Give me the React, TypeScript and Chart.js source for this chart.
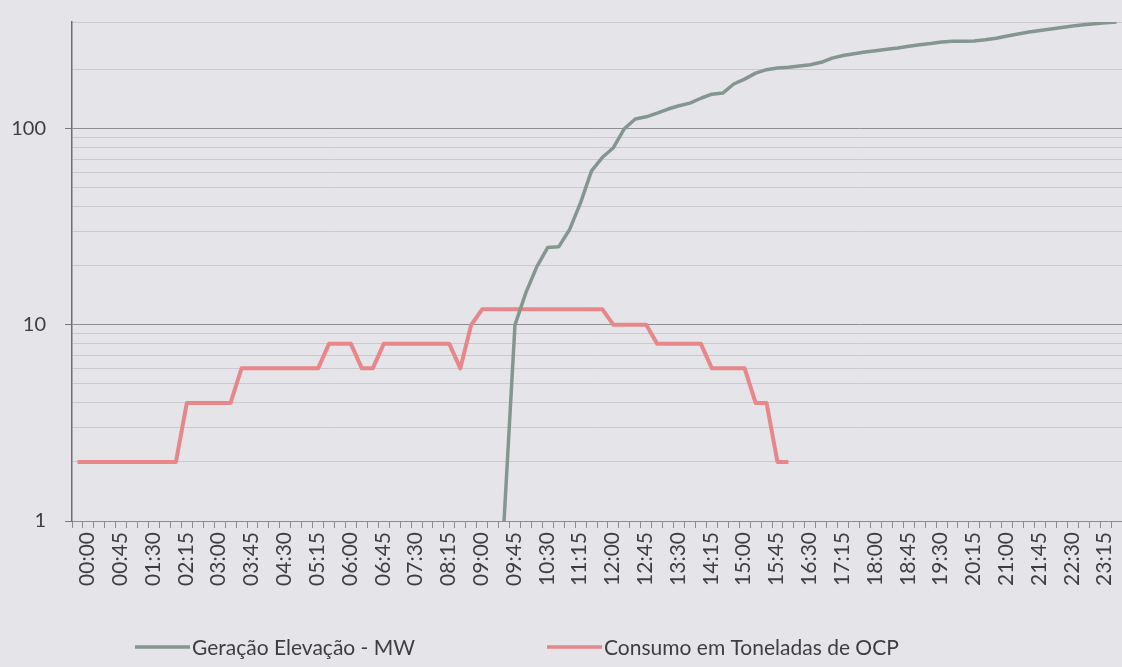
import { useEffect, useRef } from "react";
import { Chart, registerables } from "chart.js";

Chart.register(...registerables);

const TIME_LABELS: string[] = [
  "00:00", "00:15", "00:30", "00:45", "01:00", "01:15", "01:30", "01:45",
  "02:00", "02:15", "02:30", "02:45", "03:00", "03:15", "03:30", "03:45",
  "04:00", "04:15", "04:30", "04:45", "05:00", "05:15", "05:30", "05:45",
  "06:00", "06:15", "06:30", "06:45", "07:00", "07:15", "07:30", "07:45",
  "08:00", "08:15", "08:30", "08:45", "09:00", "09:15", "09:30", "09:45",
  "10:00", "10:15", "10:30", "10:45", "11:00", "11:15", "11:30", "11:45",
  "12:00", "12:15", "12:30", "12:45", "13:00", "13:15", "13:30", "13:45",
  "14:00", "14:15", "14:30", "14:45", "15:00", "15:15", "15:30", "15:45",
  "16:00", "16:15", "16:30", "16:45", "17:00", "17:15", "17:30", "17:45",
  "18:00", "18:15", "18:30", "18:45", "19:00", "19:15", "19:30", "19:45",
  "20:00", "20:15", "20:30", "20:45", "21:00", "21:15", "21:30", "21:45",
  "22:00", "22:15", "22:30", "22:45", "23:00", "23:15", "23:30", "23:45",
];

// Geração Elevação - MW (15-minute readings)
const GERACAO: (number | null)[] = [
  null, null, null, null, null, null, null, null, null, null,
  null, null, null, null, null, null, null, null, null, null,
  null, null, null, null, null, null, null, null, null, null,
  null, null, null, null, null, null, null, null, null,
  1, 10, 14.6, 19.8, 24.8, 25, 30.7, 42, 61, 71.5,
  80, 100, 112, 115, 120, 126, 131, 135, 143, 150,
  152, 169, 179, 192, 200, 204, 206, 209, 212, 218,
  229, 236, 241, 246, 250, 254, 258, 263, 268, 272,
  277, 279, 279, 280, 284, 289, 297, 304, 311, 317,
  322, 328, 334, 339, 343, 347, 350,
];

// Consumo em Toneladas de OCP
const CONSUMO: (number | null)[] = [
  2, 2, 2, 2, 2, 2, 2, 2, 2, 2,
  4, 4, 4, 4, 4,
  6, 6, 6, 6, 6, 6, 6, 6,
  8, 8, 8,
  6, 6,
  8, 8, 8, 8, 8, 8, 8,
  6,
  10,
  12, 12, 12, 12, 12, 12, 12, 12, 12, 12, 12, 12,
  10, 10, 10, 10,
  8, 8, 8, 8, 8,
  6, 6, 6, 6,
  4, 4,
  2, 2,
  null, null, null, null, null, null, null, null, null, null,
  null, null, null, null, null, null, null, null, null, null,
  null, null, null, null, null, null, null, null, null, null,
];

const SERIES_NAMES: string[] = ["Geração Elevação - MW", "Consumo em Toneladas de OCP"];
const SERIES_COLORS: string[] = ["#83978f", "#e7878a"];

const Y_MIN = 1;
const Y_MAX = 350;
const Y_MAJOR: number[] = [1, 10, 100];
const Y_GRID: number[] = [
  1, 2, 3, 4, 5, 6, 7, 8, 9,
  10, 20, 30, 40, 50, 60, 70, 80, 90,
  100, 200, 350,
];

const W = 1122;
const H = 667;
const BG = "#e5e4e9";
const FONT = "Lato";
const TEXT = "#3e3e40";

const LEGEND_X: number[] = [135, 547];
const LEGEND_Y = 647;

const bgPlugin = {
  id: "paperBg",
  beforeDraw(chart: any) {
    const c = chart.ctx;
    c.save();
    c.fillStyle = BG;
    c.fillRect(0, 0, chart.width, chart.height);
    c.restore();
  },
};

const legendPlugin = {
  id: "bottomLegend",
  afterDraw(chart: any) {
    const c = chart.ctx;
    chart.data.datasets.forEach((ds: any, i: number) => {
      const x = LEGEND_X[i];
      c.save();
      c.strokeStyle = ds.borderColor;
      c.lineWidth = 3.5;
      c.beginPath();
      c.moveTo(x, LEGEND_Y);
      c.lineTo(x + 55, LEGEND_Y);
      c.stroke();
      c.fillStyle = TEXT;
      c.font = `21px ${FONT}`;
      c.textBaseline = "middle";
      c.textAlign = "left";
      c.fillText(ds.label, x + 57, LEGEND_Y + 1);
      c.restore();
    });
  },
};

function isMajor(v: number) {
  return Y_MAJOR.indexOf(v) >= 0;
}

export default function App() {
  const ref = useRef<HTMLCanvasElement | null>(null);

  useEffect(() => {
    let chart: Chart | null = null;
    let cancelled = false;
    const make = () => {
      if (cancelled || !ref.current) return;
      chart = new Chart(ref.current, {
        type: "line",
        data: {
          labels: TIME_LABELS,
          datasets: [
            {
              label: SERIES_NAMES[0],
              data: GERACAO,
              borderColor: SERIES_COLORS[0],
              backgroundColor: SERIES_COLORS[0],
              borderWidth: 3.5,
              pointRadius: 0,
              tension: 0,
              borderJoinStyle: "round",
              spanGaps: false,
            },
            {
              label: SERIES_NAMES[1],
              data: CONSUMO,
              borderColor: SERIES_COLORS[1],
              backgroundColor: SERIES_COLORS[1],
              borderWidth: 4,
              pointRadius: 0,
              tension: 0,
              borderJoinStyle: "round",
              spanGaps: false,
            },
          ],
        },
        options: {
          responsive: false,
          animation: false,
          devicePixelRatio: 1,
          layout: { padding: { top: 22, right: 0, bottom: 70, left: 0 } },
          plugins: {
            legend: { display: false },
            tooltip: { enabled: false },
            title: { display: false },
          },
          scales: {
            x: {
              type: "category",
              offset: true,
              grid: {
                display: true,
                drawOnChartArea: false,
                drawTicks: true,
                tickLength: 7,
                color: "#8d8c91",
                offset: true,
              },
              border: { display: true, color: "#8d8c91", width: 1 },
              ticks: {
                autoSkip: false,
                minRotation: 90,
                maxRotation: 90,
                padding: 4,
                labelOffset: 10,
                color: TEXT,
                font: { family: FONT, size: 21 },
                callback: (_v: any, i: number) => (i % 3 === 0 ? TIME_LABELS[i] : ""),
              },
              afterFit: (s: any) => {
                s.height = 76;
                s.paddingLeft = 0;
                s.paddingRight = 0;
              },
            },
            y: {
              type: "logarithmic",
              min: Y_MIN,
              max: Y_MAX,
              afterBuildTicks: (s: any) => {
                s.ticks = Y_GRID.map((v) => ({ value: v, major: isMajor(v) }));
              },
              grid: {
                color: (ctx: any) => (ctx.tick && isMajor(ctx.tick.value) ? "#8f8e93" : "#cac9ce"),
                tickColor: (ctx: any) => (ctx.tick && isMajor(ctx.tick.value) ? "#7a797e" : "rgba(0,0,0,0)"),
                tickLength: 7,
                lineWidth: 1,
              },
              border: { display: true, color: "#6e6d72", width: 1.5 },
              ticks: {
                autoSkip: false,
                padding: 19,
                color: TEXT,
                font: { family: FONT, size: 20 },
                callback: (v: any) => (isMajor(Number(v)) ? String(v) : ""),
              },
              afterFit: (s: any) => {
                s.width = 72;
                s.paddingTop = 0;
                s.paddingBottom = 0;
              },
            },
          },
        },
        plugins: [bgPlugin, legendPlugin],
      } as any);
    };
    const fontsReady = (document as any).fonts && (document as any).fonts.load
      ? Promise.all([
          (document as any).fonts.load(`21px ${FONT}`),
          (document as any).fonts.load(`20px ${FONT}`),
        ]).catch(() => null)
      : Promise.resolve(null);
    fontsReady.then(make);
    return () => {
      cancelled = true;
      if (chart) chart.destroy();
    };
  }, []);

  return (
    <div
      style={{
        position: "absolute",
        left: 0,
        top: 0,
        width: W,
        height: H,
        overflow: "hidden",
        background: BG,
      }}
    >
      <canvas ref={ref} width={W} height={H} style={{ display: "block", width: W, height: H }} />
    </div>
  );
}
